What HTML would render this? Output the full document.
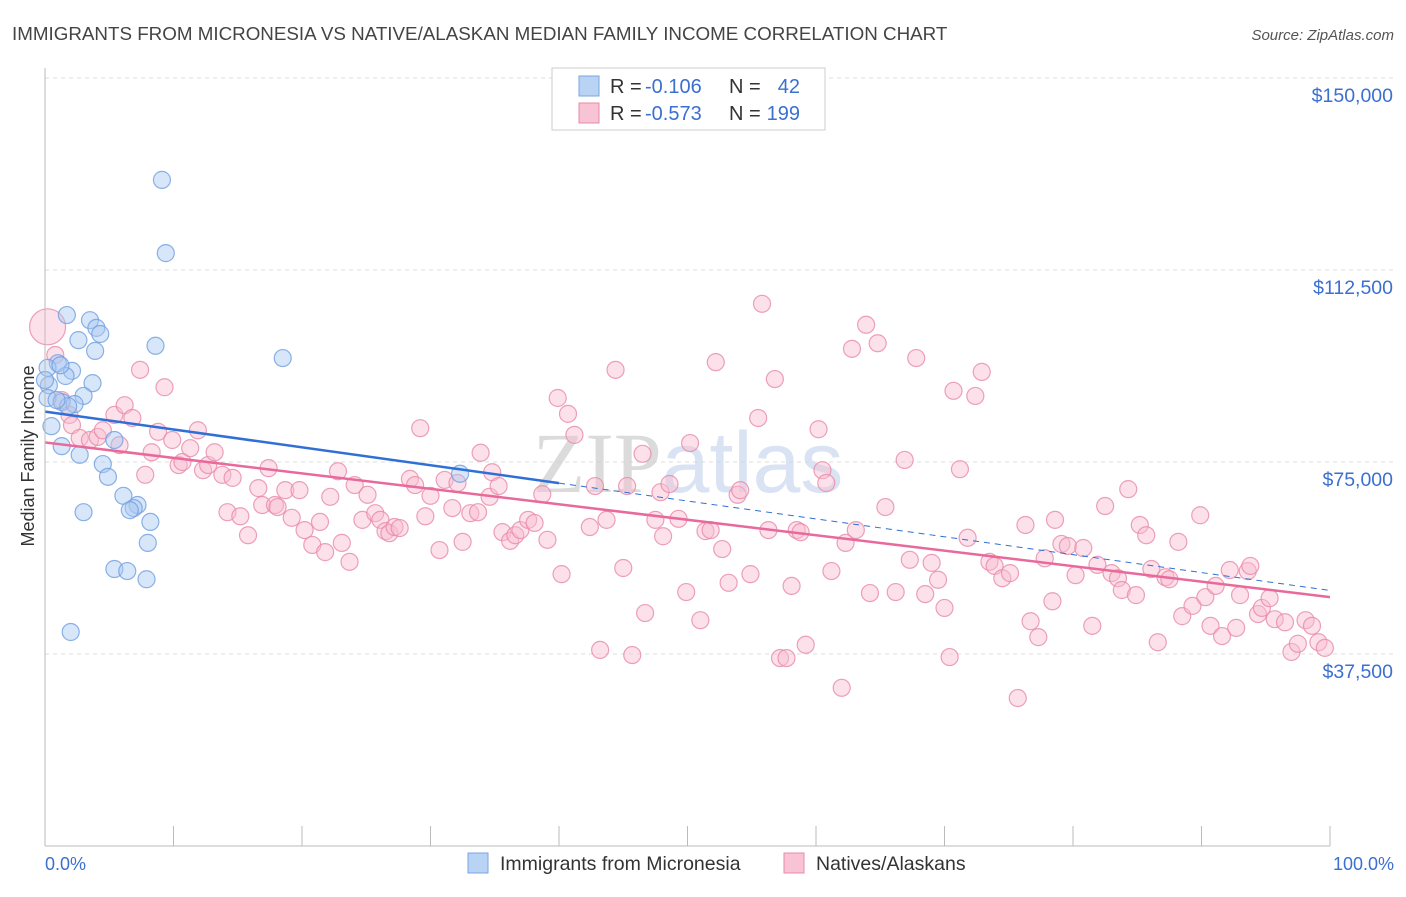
<!DOCTYPE html>
<html><head><meta charset="utf-8">
<style>
body{margin:0;background:#fff;font-family:"Liberation Sans",sans-serif;}
svg text{font-family:"Liberation Sans",sans-serif;}
</style></head>
<body>
<svg id="chart" width="1406" height="892" viewBox="0 0 1406 892" xmlns="http://www.w3.org/2000/svg">
<text x="12" y="40" font-size="18.8" fill="#444">IMMIGRANTS FROM MICRONESIA VS NATIVE/ALASKAN MEDIAN FAMILY INCOME CORRELATION CHART</text>
<text x="1394" y="40" font-size="15" fill="#555" text-anchor="end" font-style="italic">Source: ZipAtlas.com</text>
<g id="grid"></g>
<text x="688" y="492" font-size="86" fill="#ddd" text-anchor="middle" opacity="0.7"><tspan fill="#ccc" font-family="Liberation Serif">ZIP</tspan><tspan fill="#c9d8ee">atlas</tspan></text>
<g id="marks"></g>
<g id="axes"></g>
<text transform="translate(34,456) rotate(-90)" font-size="18" fill="#333" text-anchor="middle">Median Family Income</text>
<text x="45" y="870" font-size="18" fill="#3b6fd0">0.0%</text>
<text x="1394" y="870" font-size="18" fill="#3b6fd0" text-anchor="end">100.0%</text>
<g>
<rect x="552" y="68" width="273" height="62" fill="#fff" stroke="#ccc"/>
<rect x="579" y="76" width="20" height="20" fill="#b9d3f5" stroke="#7aa6e0"/>
<rect x="579" y="103" width="20" height="20" fill="#f8c3d4" stroke="#e88aa8"/>
<text x="610" y="93" font-size="20" fill="#333">R =</text>
<text x="645" y="93" font-size="20" fill="#3b6fd0">-0.106</text>
<text x="729" y="93" font-size="20" fill="#333">N =</text>
<text x="800" y="93" font-size="20" fill="#3b6fd0" text-anchor="end">42</text>
<text x="610" y="120" font-size="20" fill="#333">R =</text>
<text x="645" y="120" font-size="20" fill="#3b6fd0">-0.573</text>
<text x="729" y="120" font-size="20" fill="#333">N =</text>
<text x="800" y="120" font-size="20" fill="#3b6fd0" text-anchor="end">199</text>
</g>
<g>
<rect x="468" y="853" width="20" height="20" fill="#b9d3f5" stroke="#7aa6e0"/>
<text x="500" y="870" font-size="19.5" fill="#333">Immigrants from Micronesia</text>
<rect x="784" y="853" width="20" height="20" fill="#f8c3d4" stroke="#e88aa8"/>
<text x="816" y="870" font-size="19.5" fill="#333">Natives/Alaskans</text>
</g>
</svg>
<script>
const yTicks=[37500,75000,112500,150000];
const yTickLabels=["$37,500","$75,000","$112,500","$150,000"];
const xTicks=[0,10,20,30,40,50,60,70,80,90,100];
const bluePct=[9.1,9.4,1.7,3.5,4.0,4.3,2.6,8.6,3.9,18.5,1.0,0.2,2.1,1.6,3.7,0.3,3.0,0.2,1.3,2.3,1.8,0.5,5.4,1.3,2.7,4.5,4.9,6.1,7.2,6.9,6.6,8.2,3.0,8.0,5.4,6.4,7.9,2.0,32.3,1.2,0.9,0.0];
const blueInc=[130.1,115.8,103.7,102.7,101.2,100.0,98.8,97.7,96.7,95.3,94.3,93.4,92.8,91.8,90.4,90.0,87.9,87.5,86.7,86.3,85.9,82.0,79.3,78.1,76.4,74.6,72.1,68.4,66.6,66.0,65.6,63.3,65.2,59.2,54.1,53.7,52.1,41.8,72.7,93.9,87.1,91.0];
const pinkPct=[0.2,0.8,1.3,1.9,2.1,2.7,3.5,4.1,4.5,5.4,5.8,6.2,6.8,7.4,7.8,8.3,8.8,9.3,9.9,10.4,10.7,11.3,11.9,12.3,12.7,13.2,13.8,14.2,14.6,15.2,15.8,16.6,16.9,17.4,17.9,18.1,18.7,19.2,19.8,20.2,20.8,21.4,21.8,22.2,22.8,23.1,23.7,24.1,24.7,25.1,25.7,26.1,26.5,26.8,27.2,27.6,28.4,28.8,29.2,29.6,30.0,30.7,31.1,31.7,32.1,32.5,33.1,33.7,33.9,34.6,34.8,35.3,35.6,36.2,36.6,37.0,37.6,38.1,38.7,39.1,39.9,40.2,40.7,41.2,42.4,42.8,43.2,43.7,44.4,45.0,45.3,45.7,46.5,46.7,47.5,47.9,48.1,48.6,49.3,49.9,50.2,51.0,51.4,51.8,52.2,52.7,53.2,53.9,54.1,54.9,55.5,55.8,56.3,56.8,57.2,57.7,58.1,58.5,58.8,59.2,60.2,60.5,60.8,61.2,62.0,62.3,62.8,63.1,63.9,64.2,64.8,65.4,66.2,66.9,67.3,67.8,68.5,69.0,69.5,70.0,70.4,70.7,71.2,71.8,72.4,72.9,73.5,73.9,74.5,75.1,75.7,76.3,76.7,77.3,77.8,78.4,78.6,79.1,79.6,80.2,80.8,81.5,81.9,82.5,83.0,83.5,83.8,84.3,84.9,85.2,85.7,86.1,86.6,87.2,87.5,88.2,88.5,89.3,89.9,90.3,90.7,91.1,91.6,92.2,92.7,93.0,93.6,93.8,94.4,94.7,95.3,95.7,96.5,97.0,97.5,98.1,98.6,99.1,99.6];
const pinkInc=[101.4,95.9,87.1,84.2,82.2,79.7,79.3,79.9,81.2,84.2,78.3,86.1,83.6,93.0,72.5,76.9,80.9,89.6,79.3,74.4,75.0,77.7,81.2,73.4,74.4,76.9,72.5,65.2,71.9,64.4,60.7,69.9,66.6,73.8,66.6,66.2,69.5,64.1,69.5,61.7,58.8,63.3,57.4,68.2,73.2,59.2,55.5,70.5,63.7,68.6,65.0,63.7,61.5,61.1,62.3,62.1,71.7,70.5,81.6,64.4,68.4,57.8,71.5,66.0,70.9,59.4,65.0,65.2,76.8,68.2,73.0,70.3,61.3,59.6,60.7,61.7,63.7,63.1,68.7,59.8,87.5,53.1,84.4,80.3,62.3,70.3,38.3,63.7,93.0,54.3,70.3,37.3,76.6,45.5,63.7,69.1,60.5,70.7,63.9,49.6,78.7,44.1,61.5,61.7,94.5,58.0,51.4,68.6,69.5,53.1,83.6,105.9,61.7,91.2,36.7,36.7,50.8,61.7,61.3,39.3,81.4,73.4,70.9,53.7,30.9,59.2,97.1,61.7,101.8,49.4,98.2,66.2,49.6,75.4,55.9,95.3,49.2,55.3,52.0,46.5,36.9,88.9,73.6,60.2,87.9,92.6,55.5,54.7,52.3,53.3,28.9,62.7,43.9,40.8,56.2,47.8,63.7,59.0,58.6,52.9,58.2,43.0,54.9,66.4,53.3,52.3,50.0,69.7,49.0,62.7,60.7,54.1,39.8,52.5,52.1,59.4,44.9,46.9,64.6,48.6,43.0,50.8,41.0,53.9,42.6,49.0,53.7,54.7,45.3,46.5,48.4,44.3,43.7,37.9,39.5,44.1,43.0,39.8,38.7];

const NS='http://www.w3.org/2000/svg';
const X0=45,X1=1330,YB=846;
function xs(p){return X0+(X1-X0)*p/100;}
function ys(v){return YB-(YB-654)*v/37500;}
function mk(tag,attrs,parent){const e=document.createElementNS(NS,tag);for(const k in attrs)e.setAttribute(k,attrs[k]);parent.appendChild(e);return e;}
const grid=document.getElementById('grid'),axes=document.getElementById('axes'),marks=document.getElementById('marks');
yTicks.forEach((t,i)=>{
 const l=mk('line',{x1:X0,x2:1394,y1:ys(t),y2:ys(t),stroke:'#ddd','stroke-dasharray':'4,4'},grid);
 
 
 const tx=mk('text',{x:1393,y:ys(t)+24,'font-size':19.5,fill:'#3b6fd0','text-anchor':'end'},axes);
 tx.textContent=yTickLabels[i];
 
 
});
const yl=mk('line',{x1:X0,x2:X0,y1:68,y2:YB,stroke:'#bbb'},axes);


const xl=mk('line',{x1:X0,x2:X1,y1:YB,y2:YB,stroke:'#bbb'},axes);


xTicks.forEach(t=>{
 const l=mk('line',{x1:xs(t),x2:xs(t),y1:826,y2:YB,stroke:'#bbb'},axes);
 
 
});
function drawPts(px,py,fill,stroke,name){
 px.forEach((p,i)=>{
  const r=(i===0&&name==='pink-point')?18:8.5;
  const c=mk('circle',{cx:xs(p),cy:ys(py[i]*1000),r:r,fill:fill,'fill-opacity':0.45,stroke:stroke,'stroke-width':1.2,'stroke-opacity':0.8},marks);
  
  
 });
}
function fit(px,py){const n=px.length;let mx=0,my=0;px.forEach((p,i)=>{mx+=p;my+=py[i];});mx/=n;my/=n;let sxy=0,sxx=0;px.forEach((p,i)=>{sxy+=(p-mx)*(py[i]-my);sxx+=(p-mx)*(p-mx);});const b=sxy/sxx;return [my-b*mx,b];}
drawPts(pinkPct,pinkInc,'#f8bcd0','#e88aa8','pink-point');
drawPts(bluePct,blueInc,'#a9c8f2','#6f9fe0','blue-point');
const [pa,pb]=fit(pinkPct,pinkInc);
const pl=mk('line',{x1:xs(0),y1:ys((pa)*1000),x2:xs(100),y2:ys((pa+pb*100)*1000),stroke:'#e8699a','stroke-width':2.5},marks);


const [ba,bb]=fit(bluePct,blueInc);
const bl=mk('line',{x1:xs(0),y1:ys(ba*1000),x2:xs(40),y2:ys((ba+bb*40)*1000),stroke:'#2f6fd6','stroke-width':2.5},marks);


const bd=mk('line',{x1:xs(40),y1:ys((ba+bb*40)*1000),x2:xs(100),y2:ys((ba+bb*100)*1000),stroke:'#2f6fd6','stroke-width':1,'stroke-dasharray':'6,5'},marks);


</script>
</body></html>
